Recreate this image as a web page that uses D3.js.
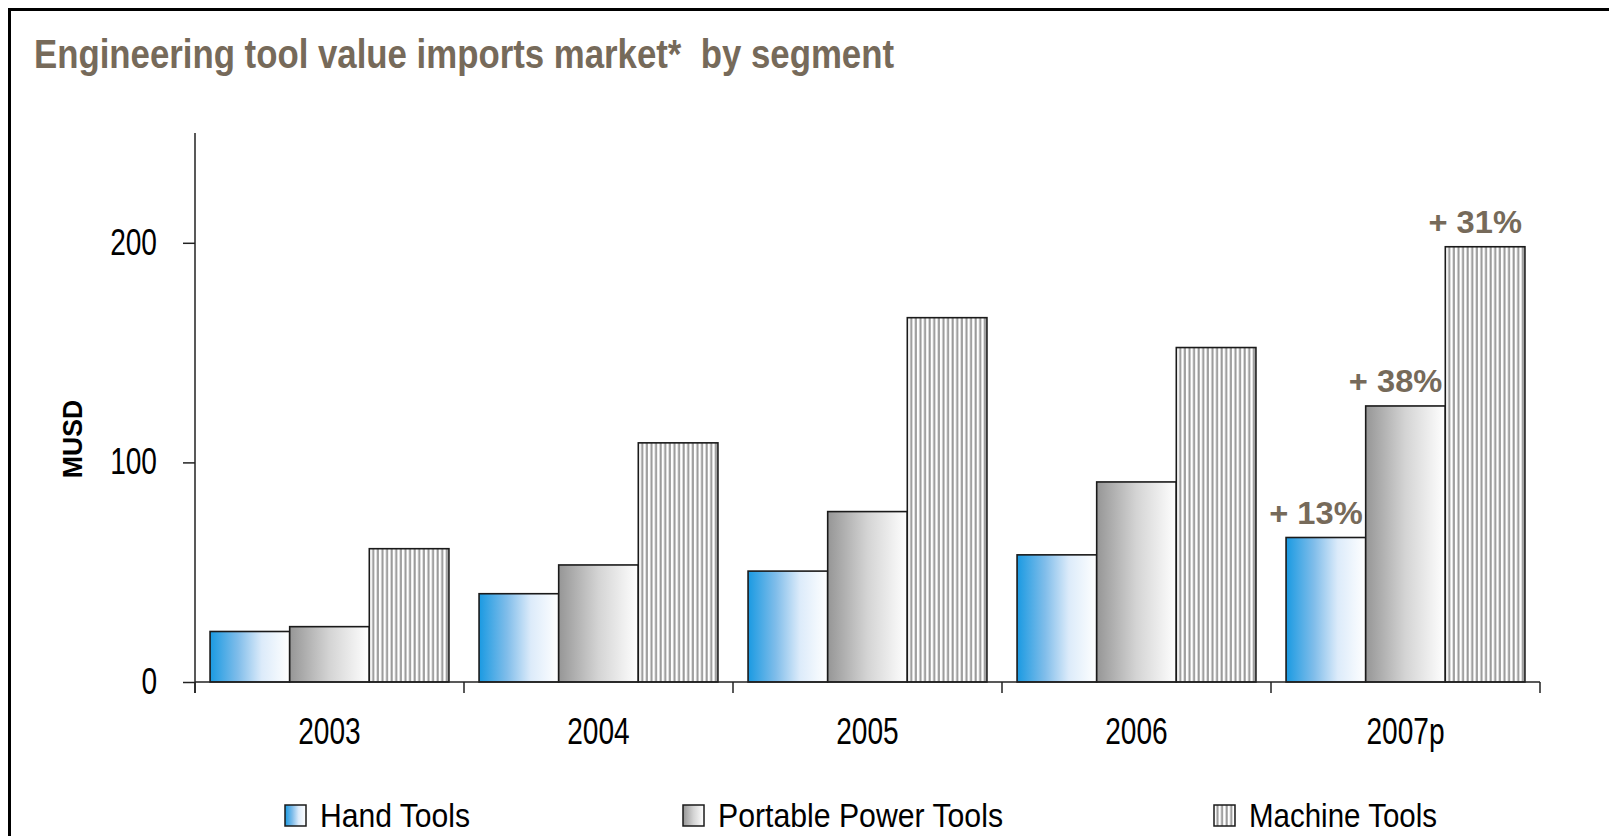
<!DOCTYPE html>
<html>
<head>
<meta charset="utf-8">
<script src="https://cdn.jsdelivr.net/npm/d3@7"></script>
<style>
  html, body { margin: 0; padding: 0; background: #fff; }
  svg { display: block; }
  text { font-family: "Liberation Sans Narrow", "Arial Narrow", "Liberation Sans", sans-serif; }
</style>
</head>
<body>
<svg width="1609" height="836"></svg>
<script>
// chart data
var years = ["2003", "2004", "2005", "2006", "2007p"];
var seriesNames = ["Hand Tools", "Portable Power Tools", "Machine Tools"];
var handTools = [23, 40.2, 50.5, 57.9, 65.8];
var portableTools = [25.2, 53.3, 77.6, 91.1, 125.7];
var machineTools = [60.7, 108.9, 165.9, 152.3, 198.2];
var yTicks = [0, 100, 200];
var growthLabels = ["+ 13%", "+ 38%", "+ 31%"];

// squeeze text horizontally (narrow font look)
function condense(sel, f) {
    sel.each(function () {
        var w = this.getComputedTextLength();
        d3.select(this).attr("textLength", w * f).attr("lengthAdjust", "spacingAndGlyphs");
    });
}

window.onload = function () {
    var svg = d3.select("svg");
    var titleColor = "#766a5a";

    var rows = years.map(function (y, i) {
        return {year: y, values: [handTools[i], portableTools[i], machineTools[i]]};
    });

    // frame round the picture
    svg.append("rect")
        .attr("x", 9.5).attr("y", 9.5)
        .attr("width", 1620).attr("height", 850)
        .attr("fill", "none").attr("stroke", "#000").attr("stroke-width", 3);

    // fills
    var defs = svg.append("defs");
    var g1 = defs.append("linearGradient").attr("id", "handGrad")
        .attr("x1", "0%").attr("x2", "100%").attr("y1", "0%").attr("y2", "0%");
    g1.append("stop").attr("offset", "0%").attr("stop-color", "#1a9ae2");
    g1.append("stop").attr("offset", "35%").attr("stop-color", "#80bdea");
    g1.append("stop").attr("offset", "65%").attr("stop-color", "#dcebfa");
    g1.append("stop").attr("offset", "100%").attr("stop-color", "#ffffff");

    var g2 = defs.append("linearGradient").attr("id", "powerGrad")
        .attr("x1", "0%").attr("x2", "100%").attr("y1", "0%").attr("y2", "0%");
    g2.append("stop").attr("offset", "0%").attr("stop-color", "#969696");
    g2.append("stop").attr("offset", "50%").attr("stop-color", "#d4d4d4");
    g2.append("stop").attr("offset", "100%").attr("stop-color", "#ffffff");

    var pat = defs.append("pattern").attr("id", "stripes")
        .attr("patternUnits", "userSpaceOnUse")
        .attr("width", 4.6).attr("height", 10);
    pat.append("rect").attr("width", 4.6).attr("height", 10).attr("fill", "#fff");
    pat.append("rect").attr("x", 2.4).attr("width", 2.1).attr("height", 10).attr("fill", "#999");

    var fills = ["url(#handGrad)", "url(#powerGrad)", "url(#stripes)"];

    // scales
    var left = 195, right = 1540, bottom = 682, top = 133;
    var x0 = d3.scaleBand().domain(years).range([left, right]);
    var bw = x0.bandwidth();
    var x1 = d3.scaleBand().domain(seriesNames).range([bw * 0.056, bw * 0.944]);
    var yScale = d3.scaleLinear().domain([0, 250]).range([bottom, top]);

    // title
    svg.append("text")
        .attr("x", 34).attr("y", 68)
        .attr("fill", titleColor)
        .attr("font-weight", "bold")
        .style("font-size", "41px")
        .style("white-space", "pre")
        .attr("xml:space", "preserve")
        .attr("textLength", 860).attr("lengthAdjust", "spacingAndGlyphs")
        .text("Engineering tool value imports market*  by segment");

    // bars
    var groups = svg.selectAll(".grp").data(rows).enter().append("g")
        .attr("class", "grp")
        .attr("transform", function (d) { return "translate(" + x0(d.year) + ",0)"; });

    groups.selectAll("rect").data(function (d) {
        return d.values.map(function (v, k) { return {key: seriesNames[k], k: k, value: v}; });
    }).enter().append("rect")
        .attr("x", function (d) { return x1(d.key); })
        .attr("y", function (d) { return yScale(d.value); })
        .attr("width", x1.bandwidth())
        .attr("height", function (d) { return bottom - yScale(d.value); })
        .attr("fill", function (d) { return fills[d.k]; })
        .attr("stroke", "#1a1a1a")
        .attr("stroke-width", 1.6);

    // growth labels on last year
    var last = rows[rows.length - 1];
    last.values.forEach(function (v, k) {
        var t = svg.append("text")
            .attr("x", x0(last.year) + x1(seriesNames[k]) + x1.bandwidth() - 3)
            .attr("y", yScale(v) - 14)
            .attr("text-anchor", "end")
            .attr("fill", titleColor)
            .attr("font-weight", "bold")
            .style("font-size", "32px")
            .style("white-space", "pre")
            .text(growthLabels[k]);
        condense(t, 1.02);
    });

    // y axis
    var yAxis = d3.axisLeft(yScale).tickValues(yTicks).tickSize(12).tickPadding(26);
    var ya = svg.append("g").attr("transform", "translate(" + left + ",0)").call(yAxis);
    ya.select(".domain").remove();
    ya.selectAll(".tick line").attr("stroke", "#222").attr("stroke-width", 1.5);
    ya.selectAll(".tick text")
        .attr("fill", "#000")
        .style("font-size", "36px")
        .style("font-family", "\"Liberation Sans Narrow\", \"Arial Narrow\", \"Liberation Sans\", sans-serif");
    condense(ya.selectAll(".tick text"), 0.78);

    svg.append("line")
        .attr("x1", left).attr("x2", left)
        .attr("y1", top).attr("y2", bottom + 11)
        .attr("stroke", "#222").attr("stroke-width", 1.5);

    // x axis
    svg.append("line")
        .attr("x1", left).attr("x2", right)
        .attr("y1", bottom).attr("y2", bottom)
        .attr("stroke", "#222").attr("stroke-width", 1.5);

    var edges = years.map(function (y) { return x0(y); }).concat([right]);
    svg.selectAll(".xtick").data(edges).enter().append("line")
        .attr("class", "xtick")
        .attr("x1", function (d) { return d; }).attr("x2", function (d) { return d; })
        .attr("y1", bottom).attr("y2", bottom + 11)
        .attr("stroke", "#222").attr("stroke-width", 1.5);

    var xl = svg.selectAll(".xlab").data(years).enter().append("text")
        .attr("class", "xlab")
        .attr("x", function (d) { return x0(d) + bw / 2; })
        .attr("y", 744)
        .attr("text-anchor", "middle")
        .style("font-size", "36px")
        .text(function (d) { return d; });
    condense(xl, 0.78);

    // y label
    var ml = svg.append("text")
        .attr("transform", "translate(82,439) rotate(-90)")
        .attr("text-anchor", "middle")
        .attr("font-weight", "bold")
        .style("font-size", "28px")
        .text("MUSD");
    condense(ml, 0.95);

    // legend
    var legendX = [285, 683, 1214];
    var legendW = [150, 285, 188];
    var lg = svg.selectAll(".leg").data(seriesNames).enter().append("g")
        .attr("class", "leg")
        .attr("transform", function (d, i) { return "translate(" + legendX[i] + ",805)"; });
    lg.append("rect")
        .attr("width", 21).attr("height", 21)
        .attr("fill", function (d, i) { return fills[i]; })
        .attr("stroke", "#1a1a1a").attr("stroke-width", 1.5);
    lg.append("text")
        .attr("x", 35).attr("y", 21.5)
        .style("font-size", "33px")
        .attr("textLength", function (d, i) { return legendW[i]; })
        .attr("lengthAdjust", "spacingAndGlyphs")
        .text(function (d) { return d; });
};
</script>
</body>
</html>
